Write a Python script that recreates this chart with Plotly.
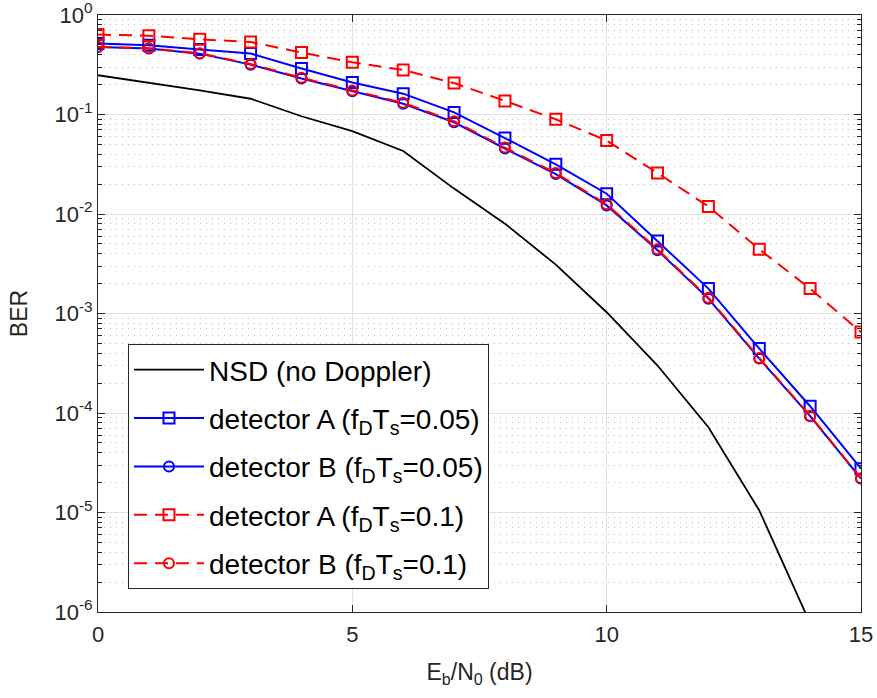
import plotly.graph_objects as go

snr_db = list(range(0, 16))
nsd_x = list(range(0, 15))
nsd_ber = [0.248, 0.21, 0.175, 0.144, 0.096, 0.068, 0.043, 0.018, 0.008, 0.0031,
           0.00103, 3.0e-4, 7.2e-5, 1.05e-5, 7.7e-7]
detA_005 = [0.516, 0.496, 0.449, 0.41, 0.29, 0.21, 0.162, 0.105, 0.058, 0.0316,
            0.016, 0.00535, 0.00178, 4.44e-4, 1.17e-4, 2.76e-5]
detB_005 = [0.477, 0.46, 0.409, 0.317, 0.23, 0.171, 0.128, 0.0835, 0.0454, 0.0252,
            0.0122, 0.00432, 0.00141, 3.52e-4, 9.3e-5, 2.19e-5]
detA_01 = [0.635, 0.62, 0.57, 0.535, 0.42, 0.335, 0.28, 0.207, 0.137, 0.0895,
           0.0547, 0.0258, 0.0119, 0.00442, 0.00178, 6.5e-4]
detB_01 = [0.48, 0.462, 0.412, 0.322, 0.234, 0.174, 0.131, 0.0855, 0.0465, 0.0258,
           0.0125, 0.00442, 0.00144, 3.58e-4, 9.4e-5, 2.21e-5]

names = ["NSD (no Doppler)",
         "detector A (f<sub>D</sub>T<sub>s</sub>=0.05)",
         "detector B (f<sub>D</sub>T<sub>s</sub>=0.05)",
         "detector A (f<sub>D</sub>T<sub>s</sub>=0.1)",
         "detector B (f<sub>D</sub>T<sub>s</sub>=0.1)"]

y_tickvals = [1e-6, 1e-5, 1e-4, 1e-3, 1e-2, 1e-1, 1]
y_ticktext = ["10<sup>-6</sup>", "10<sup>-5</sup>", "10<sup>-4</sup>", "10<sup>-3</sup>",
              "10<sup>-2</sup>", "10<sup>-1</sup>", "10<sup>0</sup>"]
x_tickvals = [0, 5, 10, 15]

minor_vals = [m * 10.0 ** e for e in range(-6, 0) for m in range(2, 10)]

fig = go.Figure()
fig.add_trace(go.Scatter(x=nsd_x, y=nsd_ber, mode="lines", name=names[0],
                         line=dict(color="black", width=1.8), legendgroup="g0"))
fig.add_trace(go.Scatter(x=snr_db, y=detA_005, mode="lines+markers", name=names[1],
                         line=dict(color="#0000FF", width=2),
                         marker=dict(symbol="square-open", size=11, color="#0000FF",
                                     line=dict(width=2)), legendgroup="g1"))
fig.add_trace(go.Scatter(x=snr_db, y=detB_005, mode="lines+markers", name=names[2],
                         line=dict(color="#0000FF", width=2),
                         marker=dict(symbol="circle-open", size=10, color="#0000FF",
                                     line=dict(width=2)), legendgroup="g2"))
fig.add_trace(go.Scatter(x=snr_db, y=detA_01, mode="lines+markers", name=names[3],
                         line=dict(color="#FF0000", width=2, dash="13px,8px"),
                         marker=dict(symbol="square-open", size=11, color="#FF0000",
                                     line=dict(width=2)), legendgroup="g3"))
fig.add_trace(go.Scatter(x=snr_db, y=detB_01, mode="lines+markers", name=names[4],
                         line=dict(color="#FF0000", width=2, dash="13px,8px"),
                         marker=dict(symbol="circle-open", size=10, color="#FF0000",
                                     line=dict(width=2)), legendgroup="g4"))

axis_color = "#262626"
fig.update_layout(
    width=877, height=698,
    margin=dict(l=98, r=16, t=15, b=86),
    paper_bgcolor="white", plot_bgcolor="white",
    font=dict(family="Liberation Sans, Arial, sans-serif", size=22, color=axis_color),
    showlegend=True,
    legend=dict(x=0.0393, y=0.449, xanchor="left", yanchor="top",
                bgcolor="white", bordercolor=axis_color, borderwidth=1,
                font=dict(size=28, color="black"), itemwidth=70,
                tracegroupgap=9, traceorder="grouped"),
    xaxis=dict(range=[0, 15], tickvals=x_tickvals, ticks="inside", ticklen=7,
               tickcolor=axis_color, automargin=False, ticklabeloverflow="allow",
               ticklabelstandoff=3,
               showline=True, linecolor=axis_color, linewidth=1, mirror="ticks",
               showgrid=True, gridcolor="#e0e0e0", gridwidth=1, zeroline=False,
               title=dict(text="E<sub>b</sub>/N<sub>0</sub> (dB)", standoff=17,
                          font=dict(size=23))),
    yaxis=dict(type="log", range=[-6, 0], tickvals=y_tickvals, ticktext=y_ticktext,
               ticks="inside", ticklen=7, tickcolor=axis_color, automargin=False,
               ticklabeloverflow="allow",
               showline=True, linecolor=axis_color,
               linewidth=1, mirror="ticks", showgrid=True, gridcolor="#e0e0e0",
               gridwidth=1, zeroline=False,
               minor=dict(tickvals=minor_vals, ticks="inside", ticklen=4,
                          tickcolor=axis_color, showgrid=True, gridcolor="#bdbdbd",
                          griddash="1px,5px", gridwidth=1),
               title=dict(text="BER", standoff=20, font=dict(size=23))),
)

fig.write_html("out.html", config={"displayModeBar": False},
               post_script="document.body.style.margin='0px';")
